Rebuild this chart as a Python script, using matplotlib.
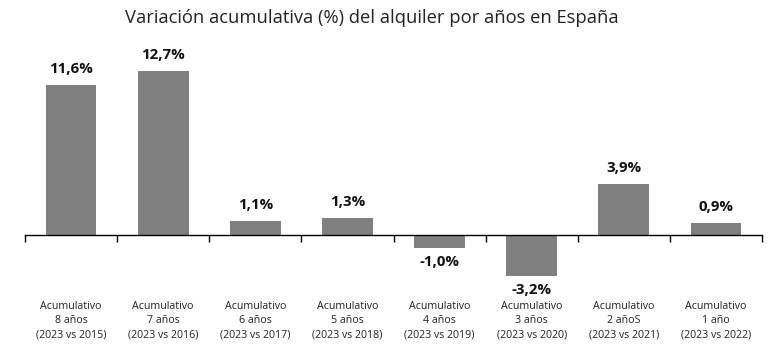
import matplotlib
matplotlib.use("Agg")
import matplotlib.pyplot as plt
import matplotlib.transforms as mtransforms

categorias = [
    "Acumulativo\n8 años\n(2023 vs 2015)",
    "Acumulativo\n7 años\n(2023 vs 2016)",
    "Acumulativo\n6 años\n(2023 vs 2017)",
    "Acumulativo\n5 años\n(2023 vs 2018)",
    "Acumulativo\n4 años\n(2023 vs 2019)",
    "Acumulativo\n3 años\n(2023 vs 2020)",
    "Acumulativo\n2 añoS\n(2023 vs 2021)",
    "Acumulativo\n1 año\n(2023 vs 2022)",
]
variacion = [11.6, 12.7, 1.1, 1.3, -1.0, -3.2, 3.9, 0.9]
etiquetas = ["11,6%", "12,7%", "1,1%", "1,3%", "-1,0%", "-3,2%", "3,9%", "0,9%"]

fig = plt.figure(figsize=(7.68, 3.6), dpi=100)
ax = fig.add_axes([25 / 768, 1 - 293 / 360, 737 / 768, 239 / 360])

x = list(range(len(variacion)))
ax.bar(x, variacion, width=0.55, color="#808080", zorder=2)

ax.set_xlim(-0.5, len(variacion) - 0.5)
ax.set_ylim(-4.5, 14)

for s in ["top", "right", "left"]:
    ax.spines[s].set_visible(False)
ax.spines["bottom"].set_position(("data", 0))
ax.spines["bottom"].set_color("black")
ax.spines["bottom"].set_linewidth(1.0)
ax.set_yticks([])
ax.set_xticks([])
ax.set_xticks([i - 0.5 for i in range(len(variacion) + 1)], minor=True)
ax.tick_params(axis="x", which="minor", direction="out", length=5, width=1, color="black", labelbottom=False)

for xi, v, t in zip(x, variacion, etiquetas):
    if v >= 0:
        ax.annotate(t, (xi, v), xytext=(0, 6.5), textcoords="offset points",
                    ha="center", va="bottom", fontsize=10.8, fontweight="bold",
                    family="Open Sans", color="#111111")
    else:
        ax.annotate(t, (xi, v), xytext=(0, -5), textcoords="offset points",
                    ha="center", va="top", fontsize=10.8, fontweight="bold",
                    family="Open Sans", color="#111111")

trans = mtransforms.blended_transform_factory(ax.transData, fig.transFigure)
for xi, c in zip(x, categorias):
    ax.text(xi, 1 - 301 / 360, c, transform=trans, ha="center", va="top",
            fontsize=7.7, family="Open Sans", color="#222222", linespacing=1.4)

fig.text(372 / 768, 1 - 18 / 360, "Variación acumulativa (%) del alquiler por años en España",
         ha="center", va="center", fontsize=13.2, family="Open Sans", color="#222222")

fig.savefig("out.png", dpi=100)
